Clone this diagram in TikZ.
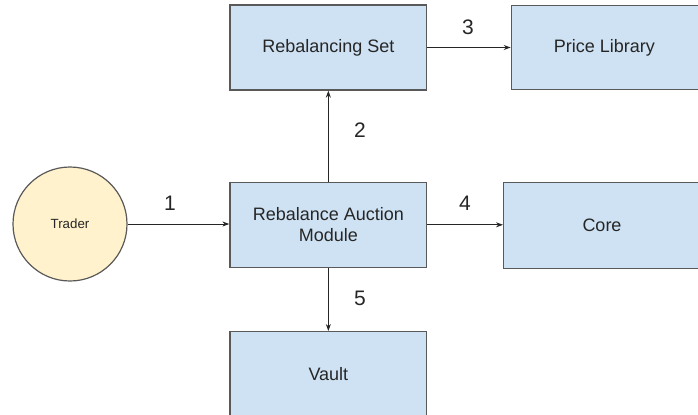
\documentclass[tikz,border=0pt]{standalone}
\usepackage{fontspec}
\setmainfont{Liberation Sans}
\usetikzlibrary{arrows.meta}
\definecolor{boxfill}{HTML}{CFE2F3}
\definecolor{traderfill}{HTML}{FFF2CC}
\definecolor{edge}{HTML}{595959}
\definecolor{ink}{HTML}{262626}
\tikzset{
  block/.style={draw=edge, line width=1.3bp, fill=boxfill, text=ink,
    font=\fontsize{18bp}{21.5bp}\selectfont, align=center, inner sep=0pt},
  actor/.style={circle, draw=edge, line width=1.2bp, fill=traderfill, text=ink,
    minimum size=114bp, inner sep=0pt, font=\fontsize{13.3bp}{16bp}\selectfont},
  link/.style={draw=black!85, line width=1bp, -{Stealth[length=7bp,width=5bp]}},
  stepnum/.style={text=ink, font=\fontsize{21bp}{24bp}\selectfont, inner sep=0pt}
}
\begin{document}
\begin{tikzpicture}[x=1bp, y=-1bp]
  \useasboundingbox (0,0) rectangle (698,414);
  \begin{scope}
    \clip (0,0) rectangle (698,414);
    % boxes
    \node[block, minimum width=196.7bp, minimum height=85bp] (rset) at (328.35,47.5) {Rebalancing Set};
    \node[block, minimum width=196bp, minimum height=84bp, anchor=north west] (price) at (510.7,5) {};
    \node[block, minimum width=196.7bp, minimum height=85bp] (ram) at (328.35,224.8) {Rebalance Auction\\Module};
    \node[block, minimum width=205bp, minimum height=86bp, anchor=north west] (core) at (503,182) {};
    \node[block, minimum width=196.7bp, minimum height=100bp, anchor=north] (vault) at (328.35,331) {};
    \node[actor] (trader) at (70,224) {Trader};
  \end{scope}
  % labels of the clipped boxes
  \node[text=ink, font=\fontsize{18bp}{21.5bp}\selectfont] (pricetxt) at (604.5,47.5) {Price Library};
  \node[text=ink, font=\fontsize{18bp}{21.5bp}\selectfont] (coretxt) at (602,225) {Core};
  \node[text=ink, font=\fontsize{18bp}{21.5bp}\selectfont] (vaulttxt) at (328.35,374) {Vault};
  % connectors
  \draw[link] (trader.east) -- (ram.west |- trader.east);
  \draw[link] (ram.north) -- (rset.south);
  \draw[link] (rset.east) -- (price.west |- rset.east);
  \draw[link] (ram.east) -- (core.west |- ram.east);
  \draw[link] (ram.south) -- (vault.north);
  % step numbers
  \node[stepnum] (n1) at (170,203) {1};
  \node[stepnum] (n2) at (360,130.5) {2};
  \node[stepnum] (n3) at (468,27) {3};
  \node[stepnum] (n4) at (465,203) {4};
  \node[stepnum] (n5) at (360,298) {5};
\end{tikzpicture}
\end{document}
